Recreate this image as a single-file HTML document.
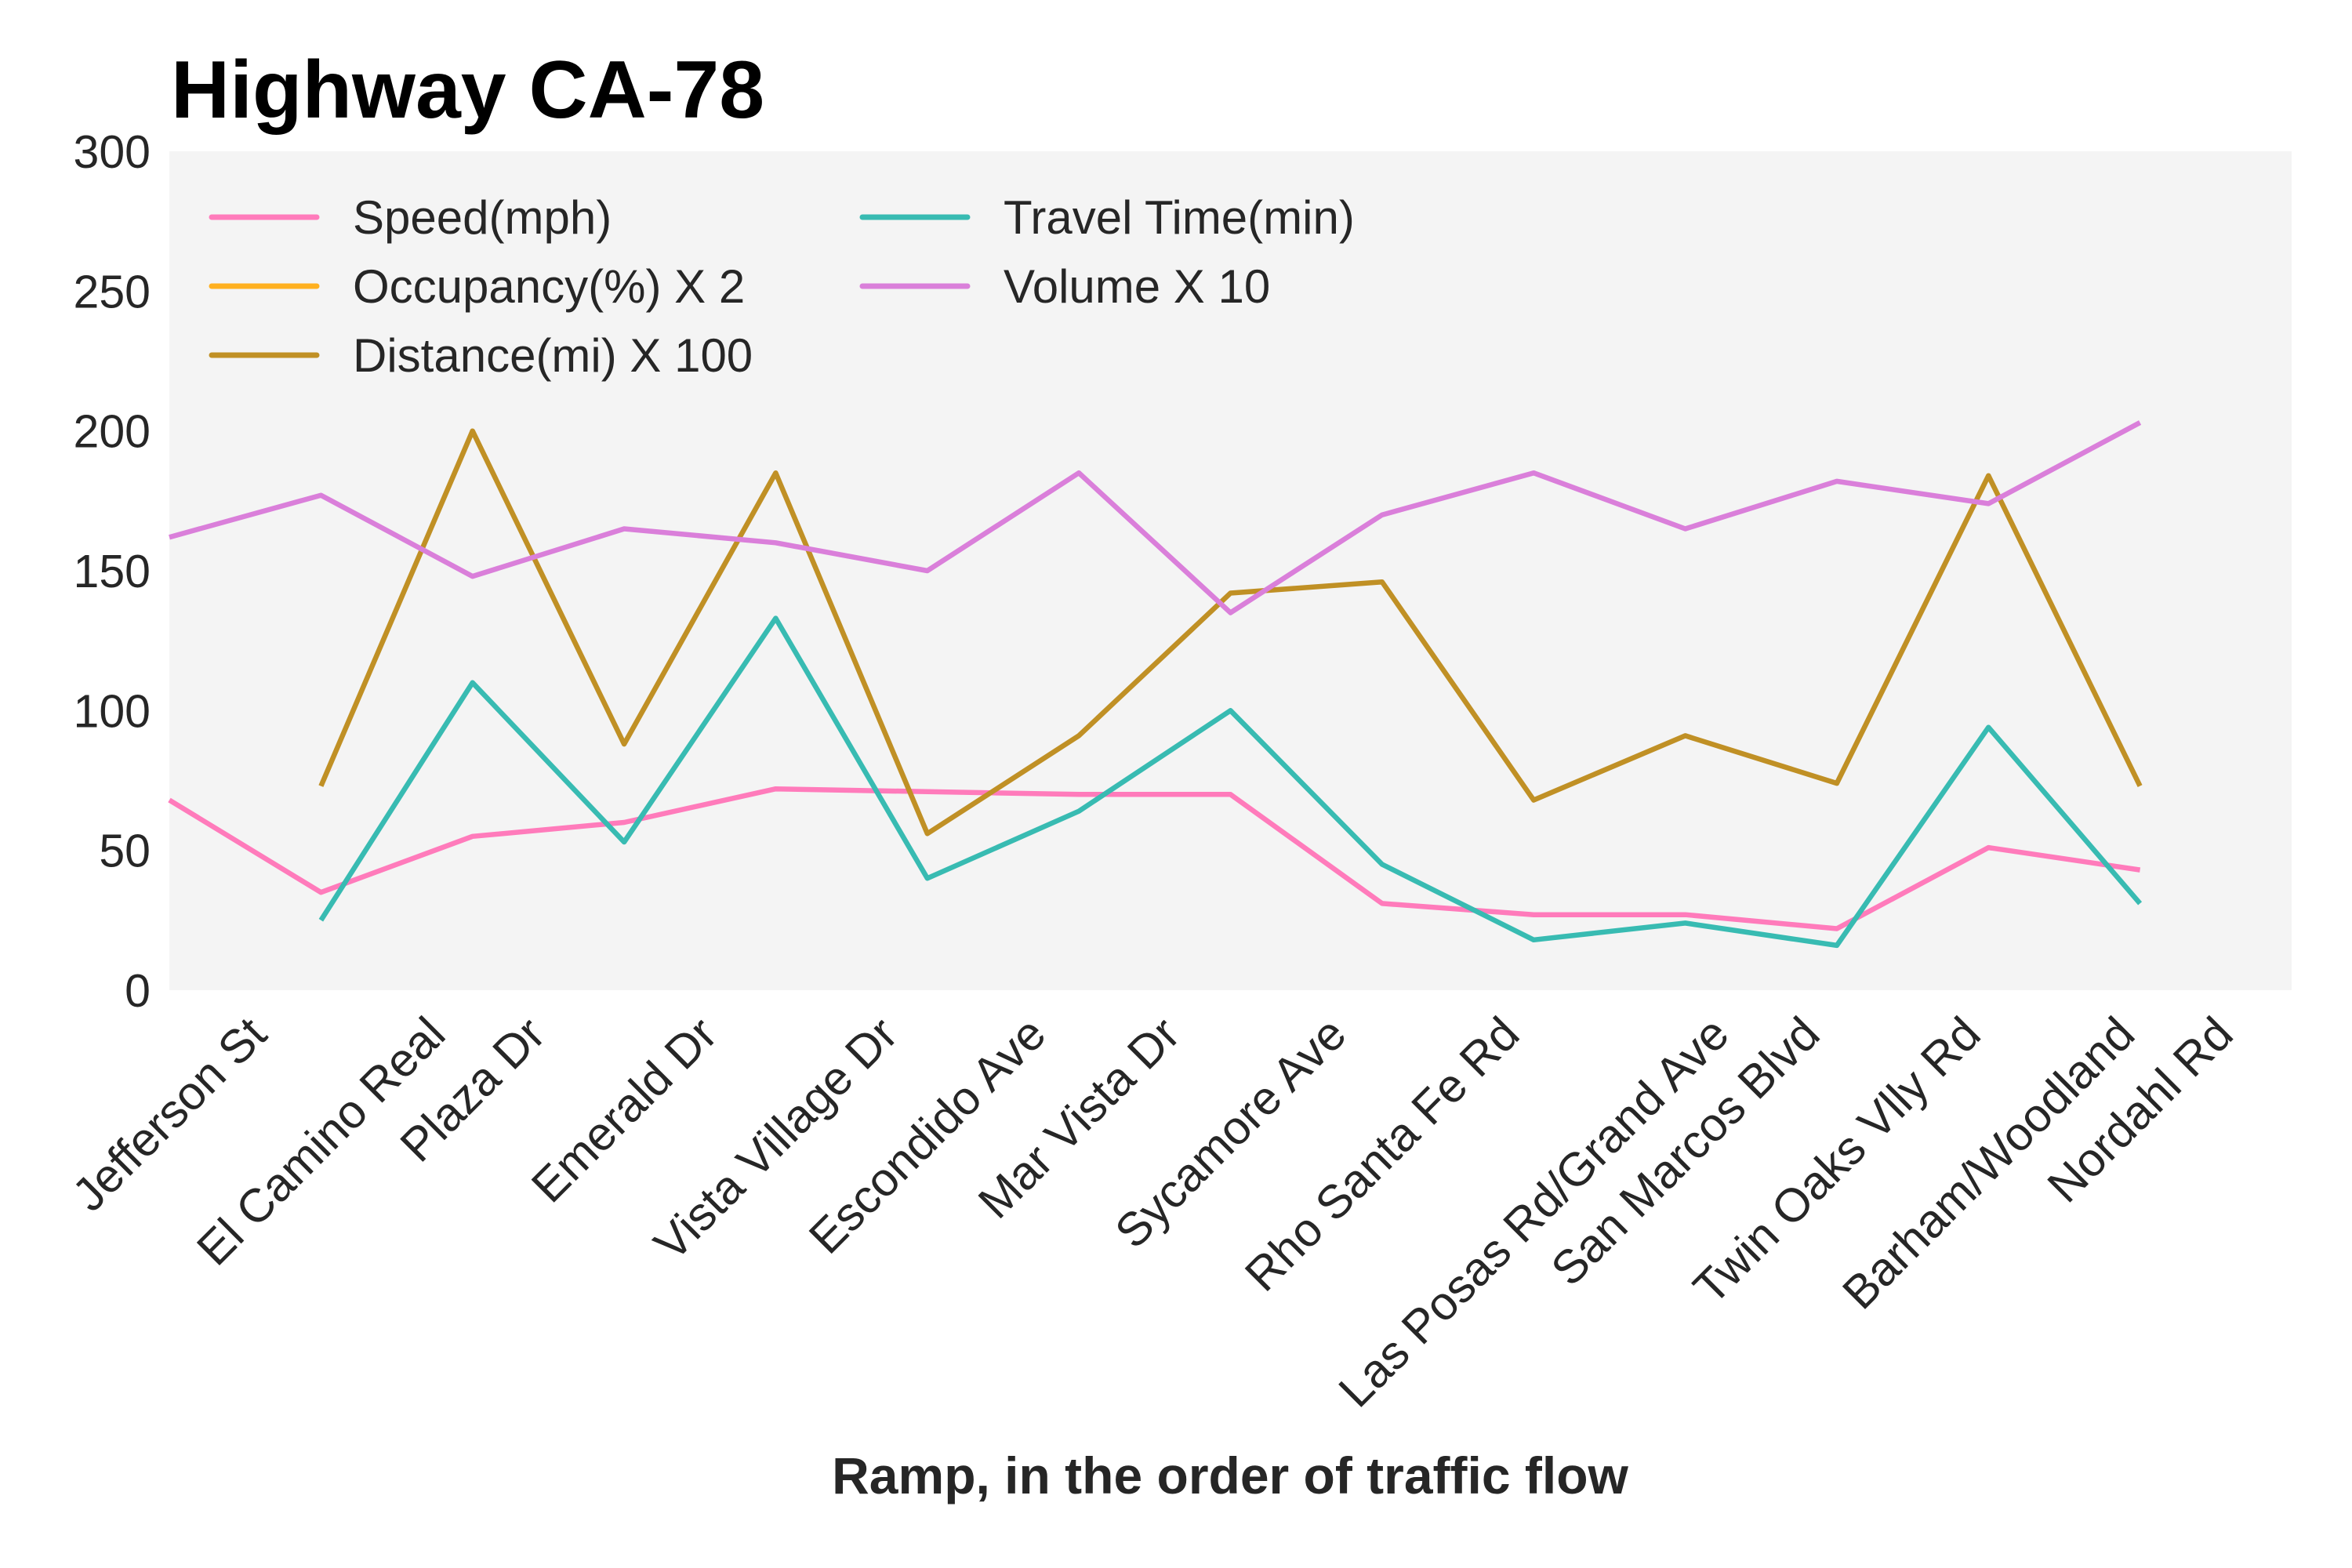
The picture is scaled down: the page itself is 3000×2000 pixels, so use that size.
<!DOCTYPE html>
<html><head><meta charset="utf-8"><style>
html,body{margin:0;padding:0;background:#fff;}
svg{display:block;font-family:"Liberation Sans",Arial,sans-serif;}
</style></head><body>
<svg id="chart" width="3000" height="2000" viewBox="0 0 3000 2000">
<rect x="0" y="0" width="3000" height="2000" fill="#fff"/>
<rect id="plotbg" x="216" y="193" width="2707" height="1070" fill="#f4f4f4"/>
<text x="218" y="150" font-size="104" font-weight="bold" fill="#000">Highway CA-78</text>
<text x="1569" y="1905" font-size="66" font-weight="bold" fill="#262626" text-anchor="middle">Ramp, in the order of traffic flow</text>
<g id="yticks"></g><g id="xticks"></g><g id="series"></g><g id="legend"></g>
</svg>
<script>
const categories=["Jefferson St","El Camino Real","Plaza Dr","Emerald Dr","Vista Village Dr","Escondido Ave","Mar Vista Dr","Sycamore Ave","Rho Santa Fe Rd","Las Posas Rd/Grand Ave","San Marcos Blvd","Twin Oaks Vlly Rd","Barham/Woodland","Nordahl Rd"];
const yTicks=[0,50,100,150,200,250,300];
const speed=[68,35,55,60,72,71,70,70,31,27,27,22,51,43];
const occupancy=[null,null,null,null,null,null,null,null,null,null,null,null,null,null];
const distance=[null,73,200,88,185,56,91,142,146,68,91,74,184,73];
const travelTime=[null,25,110,53,133,40,64,100,45,18,24,16,94,31];
const volume=[162,177,148,165,160,150,185,135,170,185,165,182,174,203];
const seriesNames=["Speed(mph)","Occupancy(%) X 2","Distance(mi) X 100","Travel Time(min)","Volume X 10"];

const NS="http://www.w3.org/2000/svg";
const L=216,R=2923,T=193,B=1263;
const xs=i=>L+(R-L)*i/14;
const ys=v=>B-(B-T)*v/300;
function mk(tag,attrs,parent){const e=document.createElementNS(NS,tag);for(const k in attrs)e.setAttribute(k,attrs[k]);parent.appendChild(e);return e;}

const yg=document.getElementById('yticks');
yTicks.forEach(v=>{
  const t=mk('text',{x:192,y:ys(v)+21,'font-size':59,fill:'#262626','text-anchor':'end'},yg);
  
  
  t.textContent=v;
});
const xg=document.getElementById('xticks');
categories.forEach((c,i)=>{
  const t=mk('text',{'font-size':60,fill:'#262626','text-anchor':'middle','dominant-baseline':'central'},xg);
  
  
  t.textContent=c;
  const w=t.getComputedTextLength();
  const h=60;
  const cy=B+24+(w+h)*0.7071/2;
  const x=xs(i);
  t.setAttribute('x',x);t.setAttribute('y',cy);
  t.setAttribute('transform','rotate(-45 '+x+' '+cy+')');
});
const colors=["#ff7bbb","#ffb01f","#c09025","#38bbb2","#da7fda"];
const data=[speed,occupancy,distance,travelTime,volume];
const names=["speed-line","occupancy-line","distance-line","travel-time-line","volume-line"];
const sg=document.getElementById('series');
[0,1,2,3,4].forEach(k=>{
  let d="",pen=false;
  data[k].forEach((v,i)=>{
    if(v===null){pen=false;return;}
    d+=(pen?"L":"M")+xs(i).toFixed(1)+" "+ys(v).toFixed(1)+" ";pen=true;
  });
  if(!d)return;
  const p=mk('path',{d:d,fill:'none',stroke:colors[k],'stroke-width':6.5,'stroke-linejoin':'round'},sg);
  
  
});
const lg=document.getElementById('legend');
const legPos=[[270,277],[270,365],[270,453],[1100,277],[1100,365]];
[0,1,2,3,4].forEach((k,j)=>{
  const [x,y]=legPos[j];
  const g=mk('g',{},lg);
  
  
  mk('line',{x1:x,y1:y,x2:x+134,y2:y,stroke:colors[k],'stroke-width':7,'stroke-linecap':'round'},g);
  const t=mk('text',{x:x+180,y:y+21,'font-size':60,fill:'#262626'},g);
  t.textContent=seriesNames[k];
});
</script>
</body></html>
